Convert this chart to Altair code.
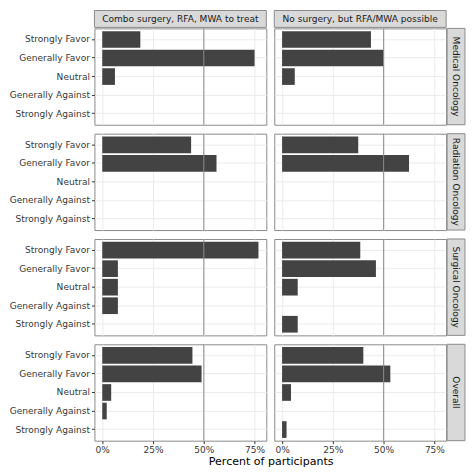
import altair as alt
import pandas as pd

# ---------------- data ----------------
CATEGORIES = ["Strongly Favor", "Generally Favor", "Neutral",
              "Generally Against", "Strongly Against"]
TREATMENTS = ["Combo surgery, RFA, MWA to treat", "No surgery, but RFA/MWA possible"]
SPECIALTIES = ["Medical Oncology", "Radiation Oncology", "Surgical Oncology", "Overall"]

MED_COMBO = [18.75, 75.0, 6.25, 0, 0]
MED_NOSURG = [43.75, 50.0, 6.25, 0, 0]
RAD_COMBO = [43.75, 56.25, 0, 0, 0]
RAD_NOSURG = [37.5, 62.5, 0, 0, 0]
SURG_COMBO = [76.9, 7.7, 7.7, 7.7, 0]
SURG_NOSURG = [38.5, 46.2, 7.7, 0, 7.7]
ALL_COMBO = [44.4, 48.9, 4.4, 2.2, 0]
ALL_NOSURG = [40.0, 53.3, 4.4, 0, 2.2]

SERIES = {
    "Medical Oncology": [MED_COMBO, MED_NOSURG],
    "Radiation Oncology": [RAD_COMBO, RAD_NOSURG],
    "Surgical Oncology": [SURG_COMBO, SURG_NOSURG],
    "Overall": [ALL_COMBO, ALL_NOSURG],
}

X_TICKS = [0, 25, 50, 75]
REFERENCE_LINE = [50]
X_DOMAIN = [-3.85, 80.77]
X_TITLE = "Percent of participants"

# ---------------- layout / style ----------------
W, H = 173, 97
COL_SP, ROW_SP = 6, 7
STRIP_H, STRIP_W = 17, 18
FONT = "DejaVu Sans"
FS = 9.1
BAR = "#434343"
GRID = "#ebebeb"
BORDER = "#8a8a8a"
STRIP_FILL = "#d9d9d9"
TEXT_DARK = "#1a1a1a"
LABEL = "#383838"

xscale = alt.Scale(domain=X_DOMAIN, nice=False, zero=False)
yscale = alt.Scale(domain=CATEGORIES, paddingInner=0.1, paddingOuter=0.15)


def top_strip_layers(label):
    d = pd.DataFrame({"label": [label]})
    bg = alt.Chart(d).mark_rect(fill=STRIP_FILL, stroke=BORDER, strokeWidth=1).encode(
        x=alt.value(0), x2=alt.value(W),
        y=alt.value(-(STRIP_H + 1)), y2=alt.value(-1)
    )
    tx = alt.Chart(d).mark_text(font=FONT, fontSize=FS, color=TEXT_DARK,
                                align="center", baseline="middle").encode(
        x=alt.value(W / 2), y=alt.value(-(STRIP_H / 2 + 1) + 0.5), text="label:N"
    )
    return [bg, tx]


def right_strip_layers(label):
    d = pd.DataFrame({"label": [label]})
    bg = alt.Chart(d).mark_rect(fill=STRIP_FILL, stroke=BORDER, strokeWidth=1).encode(
        x=alt.value(W + 1), x2=alt.value(W + 1 + STRIP_W),
        y=alt.value(0), y2=alt.value(H)
    )
    tx = alt.Chart(d).mark_text(font=FONT, fontSize=FS, color=TEXT_DARK, angle=90,
                                align="center", baseline="middle").encode(
        x=alt.value(W + 1 + STRIP_W / 2), y=alt.value(H / 2), text="label:N"
    )
    return [bg, tx]


def panel(values, col, row):
    bottom = bool(row == len(SPECIALTIES) - 1)
    df = pd.DataFrame({"response": CATEGORIES, "pct": values})
    df = df[df["pct"] > 0]
    if bottom:
        xaxis = alt.Axis(values=X_TICKS, grid=True, gridColor=GRID, domain=False,
                         orient="bottom", labelAngle=0,
                         labelExpr="datum.value + '%'",
                         labelFont=FONT, labelFontSize=FS, labelColor=LABEL,
                         tickColor="#333333", tickSize=3, labelPadding=2, title=None)
    else:
        xaxis = alt.Axis(values=X_TICKS, grid=True, gridColor=GRID, domain=False,
                         labels=False, ticks=False, title=None)
    if col == 0:
        yaxis = alt.Axis(title=None, domain=False, grid=True, gridColor=GRID,
                         bandPosition=0.5, labelFont=FONT, labelFontSize=FS,
                         labelColor=LABEL, tickColor="#333333", tickSize=3,
                         labelPadding=2)
    else:
        yaxis = alt.Axis(title=None, domain=False, grid=True, gridColor=GRID,
                         bandPosition=0.5, labels=False, ticks=False)

    bars = alt.Chart(df).mark_bar(color=BAR).encode(
        x=alt.X("pct:Q", scale=xscale, axis=xaxis),
        y=alt.Y("response:N", scale=yscale, axis=yaxis),
    )
    rule = alt.Chart(pd.DataFrame({"pct": REFERENCE_LINE})).mark_rule(
        color="#8c8c8c", strokeWidth=1
    ).encode(x=alt.X("pct:Q", scale=xscale, axis=xaxis))
    layers = [bars, rule]
    if row == 0:
        layers += top_strip_layers(TREATMENTS[col])
    if col == 1:
        layers += right_strip_layers(SPECIALTIES[row])
    return alt.layer(*layers).properties(
        width=W, height=H, view=alt.ViewBackground(stroke=BORDER, strokeWidth=1)
    )


panels = []
for r, spec in enumerate(SPECIALTIES):
    panels.append(panel(SERIES[spec][0], 0, r))
    panels.append(panel(SERIES[spec][1], 1, r))

chart = alt.concat(
    *panels, columns=2, spacing={"row": ROW_SP, "column": COL_SP},
    padding=0,
    title=alt.TitleParams(X_TITLE, orient="bottom", anchor="middle", font=FONT,
                          fontSize=11.1, fontWeight="normal", color="#000000",
                          dx=34, offset=1)
).configure_view(stroke="transparent").configure(background="white")

chart.save("out.html", embed_options={"renderer": "svg", "actions": False})
